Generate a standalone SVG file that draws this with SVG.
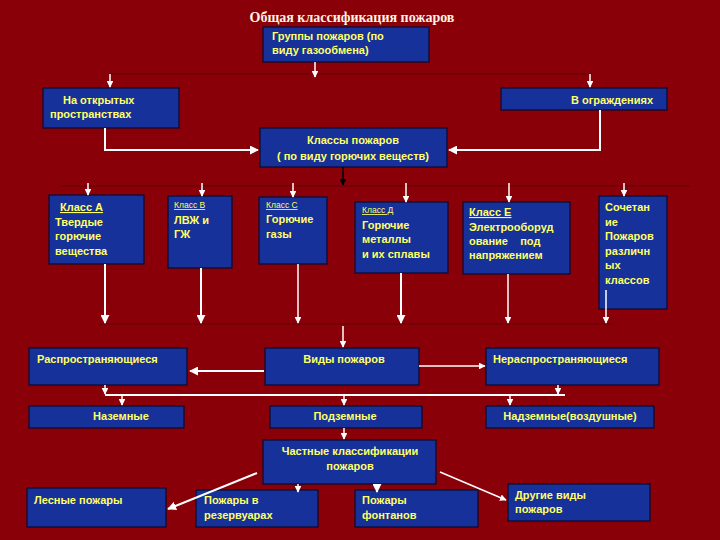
<svg xmlns="http://www.w3.org/2000/svg" width="720" height="540" viewBox="0 0 720 540">
<defs>
<style>
.bx{fill:#17319a;stroke:#0a0a30;stroke-width:1.2}
.t{font-family:"Liberation Sans",Arial,sans-serif;font-size:11px;font-weight:bold;fill:#ffff66}
.s{font-family:"Liberation Sans",Arial,sans-serif;font-size:8.5px;fill:#ffff66;text-decoration:underline}
.w{stroke:#ffffff;stroke-width:2;fill:none}
.w1{stroke:#ffffff;stroke-width:1.5;fill:none}
.bus{stroke:#6e0008;stroke-width:1.5;fill:none}
</style>
<marker id="a" viewBox="0 0 10 10" refX="9" refY="5" markerWidth="4.5" markerHeight="4.5" orient="auto"><path d="M0,0L10,5L0,10z" fill="#ffffff"/></marker>
<marker id="k" viewBox="0 0 10 10" refX="9" refY="5" markerWidth="4.5" markerHeight="4.5" orient="auto"><path d="M0,0L10,5L0,10z" fill="#000000"/></marker>
</defs>
<rect width="720" height="540" fill="#8a0008"/>
<text x="352" y="22" text-anchor="middle" font-family="Liberation Serif,Times New Roman,serif" font-size="14" font-weight="bold" fill="#fff5e0">Общая классификация пожаров</text>

<g id="groups"><rect class="bx" x="263" y="27" width="166" height="35"/><text class="t" x="272" y="40">Группы пожаров (по</text><text class="t" x="272" y="54">виду газообмена)</text></g>
<g id="open"><rect class="bx" x="43" y="88" width="136" height="40"/><text class="t" x="63" y="104">На открытых</text><text class="t" x="50" y="118">пространствах</text></g>
<g id="enclosed"><rect class="bx" x="501" y="88" width="166" height="22"/><text class="t" x="653" y="104" text-anchor="end">В ограждениях</text></g>
<g id="classes"><rect class="bx" x="260" y="128" width="187" height="39"/><text class="t" x="353" y="144" text-anchor="middle">Классы пожаров</text><text class="t" x="353" y="160" text-anchor="middle">( по виду горючих веществ)</text></g>

<g id="classA"><rect class="bx" x="49" y="195" width="95" height="69"/><text class="t" x="60" y="211" text-decoration="underline">Класс А</text><text class="t" x="55" y="226">Твердые</text><text class="t" x="55" y="240">горючие</text><text class="t" x="55" y="255">вещества</text></g>
<g id="classB"><rect class="bx" x="168" y="196" width="64" height="72"/><text class="s" x="174" y="208">Класс В</text><text class="t" x="174" y="224" font-size="12">ЛВЖ и</text><text class="t" x="174" y="238" font-size="12">ГЖ</text></g>
<g id="classC"><rect class="bx" x="259" y="197" width="68" height="67"/><text class="s" x="266" y="208">Класс С</text><text class="t" x="266" y="223">Горючие</text><text class="t" x="266" y="238">газы</text></g>
<g id="classD"><rect class="bx" x="355" y="202" width="93" height="71"/><text class="s" x="362" y="213">Класс Д</text><text class="t" x="362" y="229">Горючие</text><text class="t" x="362" y="243">металлы</text><text class="t" x="362" y="258">и их сплавы</text></g>
<g id="classE"><rect class="bx" x="463" y="202" width="107" height="72"/><text class="t" x="469" y="216" text-decoration="underline">Класс Е</text><text class="t" x="469" y="231">Электрооборуд</text><text class="t" x="469" y="245" xml:space="preserve">ование    под</text><text class="t" x="469" y="259">напряжением</text></g>
<g id="combo"><rect class="bx" x="599" y="196" width="68" height="113"/><text class="t" x="605" y="211">Сочетан</text><text class="t" x="605" y="226">ие</text><text class="t" x="605" y="240">Пожаров</text><text class="t" x="605" y="255">различн</text><text class="t" x="605" y="269">ых</text><text class="t" x="605" y="284">классов</text></g>

<g id="spreading"><rect class="bx" x="29" y="348" width="158" height="37"/><text class="t" x="37" y="363">Распространяющиеся</text></g>
<g id="kinds"><rect class="bx" x="265" y="348" width="154" height="37"/><text class="t" x="344" y="363" text-anchor="middle">Виды пожаров</text></g>
<g id="nonspreading"><rect class="bx" x="486" y="348" width="173" height="37"/><text class="t" x="493" y="363">Нераспространяющиеся</text></g>

<g id="ground"><rect class="bx" x="29" y="406" width="155" height="22"/><text class="t" x="121" y="420" text-anchor="middle">Наземные</text></g>
<g id="underground"><rect class="bx" x="270" y="406" width="152" height="22"/><text class="t" x="345" y="420" text-anchor="middle">Подземные</text></g>
<g id="air"><rect class="bx" x="486" y="406" width="168" height="22"/><text class="t" x="570" y="420" text-anchor="middle">Надземные(воздушные)</text></g>

<g id="private"><rect class="bx" x="263" y="440" width="173" height="44"/><text class="t" x="350" y="455" text-anchor="middle">Частные классификации</text><text class="t" x="350" y="470" text-anchor="middle">пожаров</text></g>
<g id="forest"><rect class="bx" x="27" y="488" width="139" height="39"/><text class="t" x="34" y="504">Лесные пожары</text></g>
<g id="tanks"><rect class="bx" x="196" y="490" width="122" height="37"/><text class="t" x="204" y="504">Пожары в</text><text class="t" x="204" y="519">резервуарах</text></g>
<g id="fountains"><rect class="bx" x="355" y="490" width="123" height="37"/><text class="t" x="362" y="504">Пожары</text><text class="t" x="362" y="519">фонтанов</text></g>
<g id="other"><rect class="bx" x="508" y="484" width="142" height="37"/><text class="t" x="515" y="499">Другие виды</text><text class="t" x="515" y="513">пожаров</text></g>

<g id="connectors">
<line class="bus" x1="108" y1="74" x2="592" y2="74"/>
<line class="w1" x1="315" y1="62" x2="315" y2="77" marker-end="url(#a)"/>
<line class="w1" x1="110" y1="74" x2="110" y2="87" marker-end="url(#a)"/>
<line class="w1" x1="590" y1="74" x2="590" y2="87" marker-end="url(#a)"/>
<polyline class="w" points="105,128 105,150 258,150" marker-end="url(#a)"/>
<polyline class="w" points="600,110 600,150 449,150" marker-end="url(#a)"/>
<line x1="343" y1="167" x2="343" y2="185" stroke="#000" stroke-width="1.5" marker-end="url(#k)"/>
<line class="bus" x1="60" y1="186" x2="690" y2="186"/>
<line class="w1" x1="88" y1="183" x2="88" y2="195" marker-end="url(#a)"/>
<line class="w1" x1="202" y1="183" x2="202" y2="196" marker-end="url(#a)"/>
<line class="w1" x1="293" y1="183" x2="293" y2="197" marker-end="url(#a)"/>
<line class="w1" x1="406" y1="183" x2="406" y2="202" marker-end="url(#a)"/>
<line class="w1" x1="509" y1="183" x2="509" y2="202" marker-end="url(#a)"/>
<line class="w1" x1="624" y1="183" x2="624" y2="196" marker-end="url(#a)"/>
<line class="bus" x1="100" y1="324" x2="612" y2="324"/>
<line class="w" x1="105" y1="264" x2="105" y2="323" marker-end="url(#a)"/>
<line class="w" x1="201" y1="268" x2="201" y2="323" marker-end="url(#a)"/>
<line class="w1" x1="298" y1="264" x2="298" y2="323" marker-end="url(#a)"/>
<line class="w" x1="401" y1="273" x2="401" y2="323" marker-end="url(#a)"/>
<line class="w1" x1="508" y1="274" x2="508" y2="323" marker-end="url(#a)"/>
<line class="w1" x1="606" y1="290" x2="606" y2="323" marker-end="url(#a)"/>
<line class="w1" x1="343" y1="326" x2="343" y2="347" marker-end="url(#a)"/>
<line class="w" x1="264" y1="371" x2="190" y2="371" marker-end="url(#a)"/>
<line class="w1" x1="419" y1="366" x2="485" y2="366" marker-end="url(#a)"/>
<line class="w" x1="105" y1="395" x2="565" y2="395"/>
<line class="w1" x1="105" y1="385" x2="105" y2="394" marker-end="url(#a)"/>
<line class="w1" x1="558" y1="385" x2="558" y2="394" marker-end="url(#a)"/>
<line class="w1" x1="122" y1="395" x2="122" y2="405" marker-end="url(#a)"/>
<line class="w1" x1="344" y1="395" x2="344" y2="405" marker-end="url(#a)"/>
<line class="w1" x1="510" y1="395" x2="510" y2="405" marker-end="url(#a)"/>
<line class="w1" x1="344" y1="428" x2="344" y2="439" marker-end="url(#a)"/>
<line class="w" x1="257" y1="473" x2="168" y2="509" marker-end="url(#a)"/>
<line class="w1" x1="298" y1="484" x2="298" y2="492" marker-end="url(#a)"/>
<line class="w" x1="377" y1="484" x2="377" y2="492" marker-end="url(#a)"/>
<line class="w1" x1="440" y1="472" x2="506" y2="500" marker-end="url(#a)"/>
</g>
</svg>
